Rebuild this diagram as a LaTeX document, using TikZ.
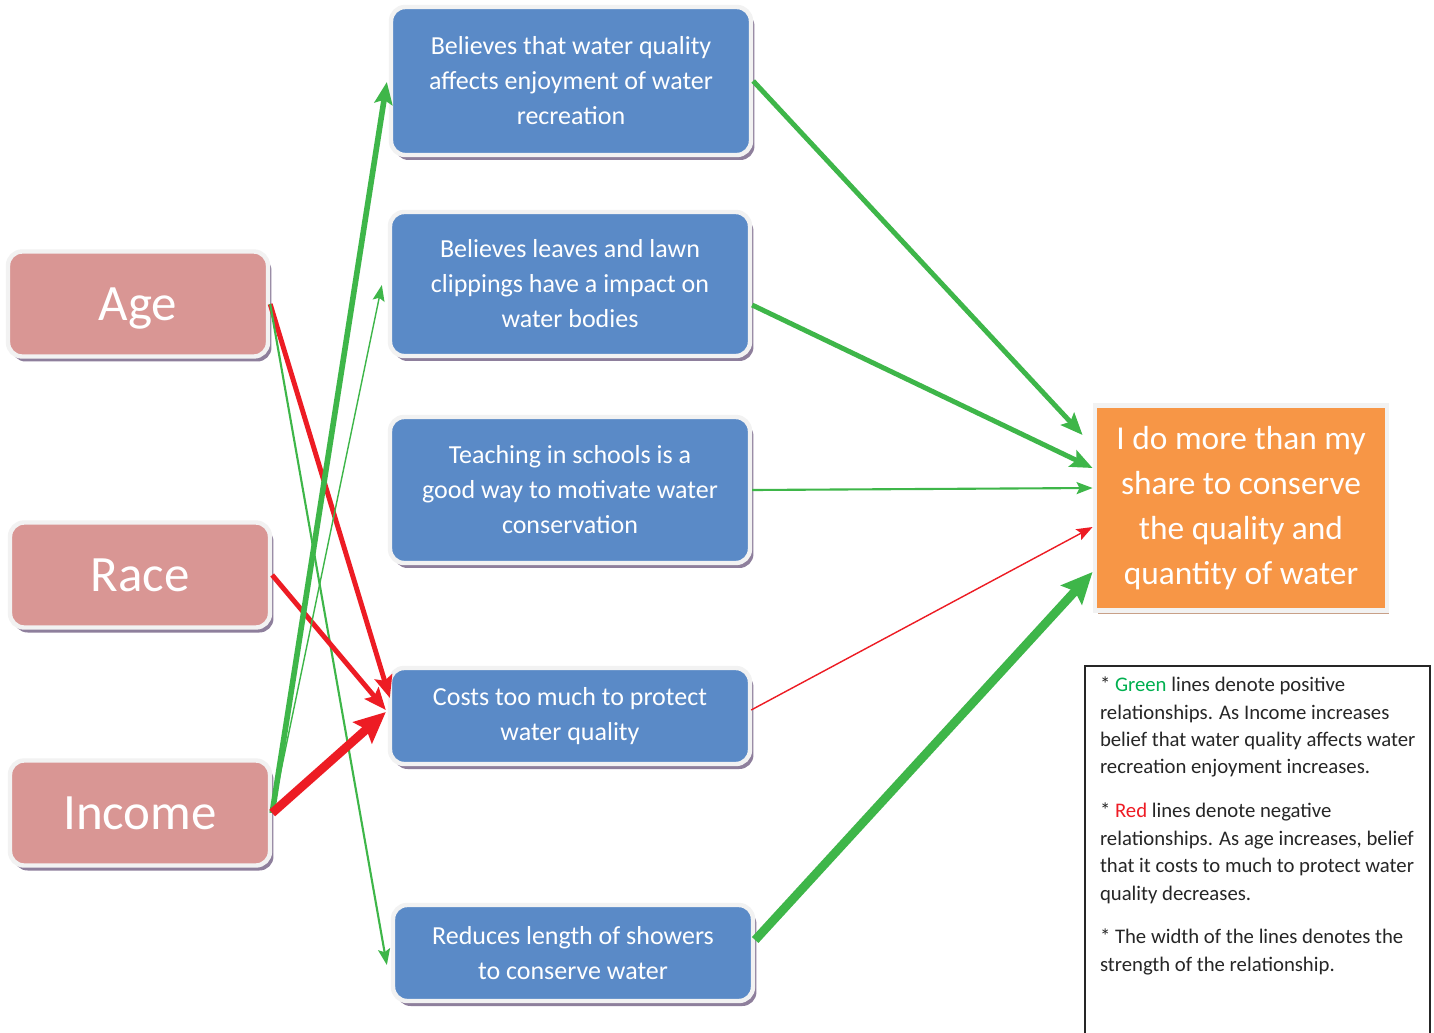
\documentclass[tikz,border=0pt]{standalone}
\usepackage{fontspec}
\setmainfont{Carlito}
\usetikzlibrary{arrows.meta,calc,shadows}
\definecolor{itemblue}{HTML}{5A8AC7}
\definecolor{causepink}{HTML}{D99694}
\definecolor{outorange}{HTML}{F79646}
\definecolor{rim}{HTML}{F2F2F2}
\definecolor{shade}{HTML}{8E7F9C}
\definecolor{shadeb}{HTML}{C8A088}
\definecolor{posgreen}{HTML}{3EB649}
\definecolor{negred}{HTML}{ED1C24}
\definecolor{keygreen}{HTML}{00B050}
\definecolor{keyred}{HTML}{EE1C25}
\definecolor{keyink}{HTML}{262626}
\tikzset{
  basebox/.style={draw=rim,line width=2.5pt,rounded corners=8pt,align=center,text=white,inner sep=0pt,
    drop shadow={shadow xshift=0.07cm,shadow yshift=-0.1cm,fill=shade,opacity=1}},
  itembox/.style={basebox,fill=itemblue,minimum width=7.2cm,font=\fontsize{14.8}{19.9}\selectfont},
  causebox/.style={basebox,fill=causepink,minimum width=5.2cm,minimum height=2.1cm,text depth=0pt,
    font=\fontsize{29}{34}\selectfont},
  outbox/.style={draw=rim,line width=2.8pt,fill=outorange,align=center,text=white,inner sep=0pt,
    minimum width=5.84cm,minimum height=4.1cm,font=\fontsize{19}{25.5}\selectfont,
    drop shadow={shadow xshift=0.05cm,shadow yshift=-0.07cm,fill=shadeb,opacity=1}},
  legendbox/.style={anchor=north west,align=left,outer sep=0pt,inner xsep=0.3cm,inner ysep=0.22cm,
    text=keyink,font=\fontsize{11.8}{15.6}\selectfont},
  keyline/.style={draw=keyink,line width=0.6pt},
  thinhead/.style={-{Stealth[length=0.32cm,width=0.24cm,inset=0.06cm]}},
  midhead/.style={-{Stealth[length=0.44cm,width=0.36cm,inset=0.08cm]}},
  bighead/.style={-{Stealth[length=0.62cm,width=0.56cm,inset=0.1cm]}},
  posarrow/.style={draw=posgreen,fill=posgreen},
  negarrow/.style={draw=negred,fill=negred}
}
\begin{document}
\begin{tikzpicture}[x=0.02cm,y=-0.02cm]
  \clip (0,0) rectangle (1434,1032);
  \fill[white] (0,0) rectangle (1434,1032);

  \node[causebox] (age) at (138,304) {Age};
  \node[causebox] (race) at (140,575) {Race};
  \node[causebox] (income) at (140,813) {Income};

  \node[itembox,minimum height=2.96cm] (enjoy) at (571,81) {Believes that water quality\\affects enjoyment of water\\recreation};
  \node[itembox,minimum height=2.88cm] (leaves) at (570,284) {Believes leaves and lawn\\clippings have a impact on\\water bodies};
  \node[itembox,minimum height=2.92cm] (school) at (570,490) {Teaching in schools is a\\good way to motivate water\\conservation};
  \node[itembox,minimum height=1.92cm] (cost) at (570,716) {Costs too much to protect\\water quality};
  \node[itembox,minimum height=1.92cm] (shower) at (573,953) {Reduces length of showers\\to conserve water};

  \node[outbox] (share) at (1241,508) {I do more than my\\share to conserve\\the quality and\\quantity of water};

  % left side
  \draw[negarrow,line width=2.8pt,midhead] (age.east) -- ($(cost.west)+(2,-18)$);
  \draw[posarrow,line width=1.2pt,thinhead] (age.east) -- ($(shower.west)+(-4,12)$);
  \draw[negarrow,line width=2.8pt,midhead] (race.east) -- ($(cost.west)+(-2,-6)$);
  \draw[posarrow,line width=3.2pt,midhead] (income.east) -- ($(enjoy.west)+(-2,1)$);
  \draw[posarrow,line width=0.8pt,thinhead] (income.east) -- ($(leaves.west)+(-6,1)$);
  \draw[negarrow,line width=5pt,bighead] (income.east) -- ($(cost.west)+(-2,-4)$);

  % right side
  \draw[posarrow,line width=2.8pt,midhead] (enjoy.east) -- ($(share.west)+(-10,-73)$);
  \draw[posarrow,line width=2.8pt,midhead] ($(leaves.east)+(0,21)$) -- ($(share.west)+(0,-40)$);
  \draw[posarrow,line width=1.2pt,thinhead] (school.east) -- ($(share.west)+(0,-20)$);
  \draw[negarrow,line width=0.8pt,thinhead] ($(cost.east)+(-1,-6)$) -- ($(share.west)+(0,19)$);
  \draw[posarrow,line width=5pt,bighead] ($(shower.east)+(0,-13)$) -- ($(share.west)+(0,64)$);

  \node[legendbox] (key) at (1085,666) {%
    * \textcolor{keygreen}{Green} lines denote positive\\
    relationships. As Income increases\\
    belief that water quality affects water\\
    recreation enjoyment increases.\\[0.33cm]
    * \textcolor{keyred}{Red} lines denote negative\\
    relationships. As age increases, belief\\
    that it costs to much to protect water\\
    quality decreases.\\[0.33cm]
    * The width of the lines denotes the\\
    strength of the relationship.};
  \draw[keyline] (key.north west) rectangle ++(345,390);
\end{tikzpicture}
\end{document}
